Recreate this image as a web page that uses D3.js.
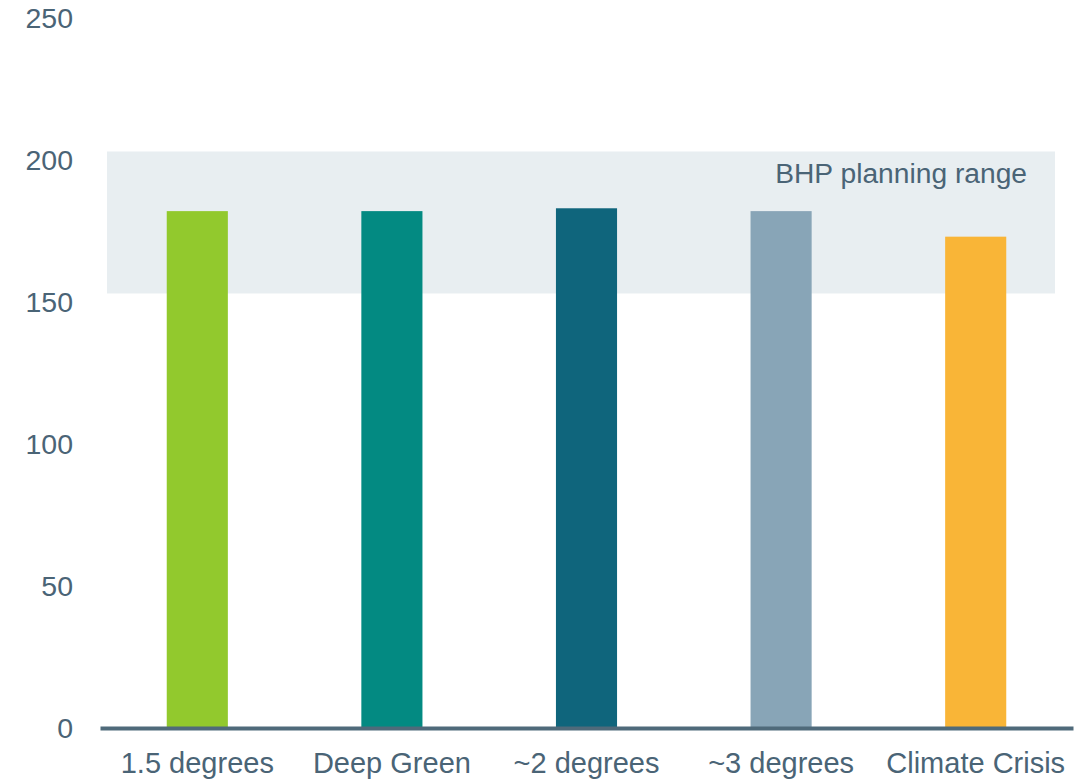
<!DOCTYPE html>
<html>
<head>
<meta charset="utf-8">
<script src="https://cdn.jsdelivr.net/npm/d3@7"></script>
<style>
  html, body { margin: 0; padding: 0; background: #ffffff; }
  svg { display: block; font-family: "Liberation Sans", Arial, sans-serif; }
</style>
</head>
<body>
<svg id="chart" width="1087" height="780"></svg>
<script>
// Scenario categories and their values
const categories = ["1.5 degrees", "Deep Green", "~2 degrees", "~3 degrees", "Climate Crisis"];
const values = [182, 182, 183, 182, 173];
const barColors = ["#92C92D", "#038A82", "#0F657C", "#88A5B7", "#F9B537"];
const yTicks = [0, 50, 100, 150, 200, 250];
// Planning range band (low, high)
const planningRange = [153, 203];
const planningLabel = "BHP planning range";

const textColor = "#4A6476";
const axisColor = "#4F6A7A";
const bandColor = "#E8EEF1";

const svg = d3.select("#chart");

const x = d3.scaleBand()
  .domain(categories)
  .range([100, 1073])
  .paddingInner(0.686)
  .paddingOuter(0.343);

const y = d3.scaleLinear()
  .domain([0, 250])
  .range([728, 18]);

// Shaded planning band
const [xr0, xr1] = x.range();
svg.append("rect")
  .attr("x", xr0 + 7)
  .attr("width", (xr1 - 18) - (xr0 + 7))
  .attr("y", y(planningRange[1]))
  .attr("height", y(planningRange[0]) - y(planningRange[1]))
  .attr("fill", bandColor);

svg.append("text")
  .attr("x", xr1 - 46)
  .attr("y", y(planningRange[1]) + 32)
  .attr("text-anchor", "end")
  .attr("font-size", 28.2)
  .attr("fill", textColor)
  .text(planningLabel);

// Bars
svg.append("g")
  .selectAll("rect")
  .data(values)
  .join("rect")
  .attr("x", (d, i) => x(categories[i]))
  .attr("width", x.bandwidth())
  .attr("y", d => y(d))
  .attr("height", d => y(0) - y(d))
  .attr("fill", (d, i) => barColors[i]);

// Y axis labels (no axis line)
const yAxis = svg.append("g")
  .attr("transform", "translate(73,0)")
  .call(d3.axisLeft(y).tickValues(yTicks).tickSize(0).tickPadding(0));
yAxis.select(".domain").remove();
yAxis.selectAll("text")
  .attr("font-size", 28.5)
  .attr("font-family", "Liberation Sans, Arial, sans-serif")
  .attr("fill", textColor);

// X axis baseline and category labels
const xAxis = svg.append("g")
  .attr("transform", `translate(0,${y(0)})`)
  .call(d3.axisBottom(x).tickSize(0).tickPadding(24).tickSizeOuter(0));
xAxis.select(".domain")
  .attr("stroke", axisColor)
  .attr("stroke-width", 4);
xAxis.selectAll("text")
  .attr("font-size", 29)
  .attr("font-family", "Liberation Sans, Arial, sans-serif")
  .attr("fill", textColor);
</script>
</body>
</html>
